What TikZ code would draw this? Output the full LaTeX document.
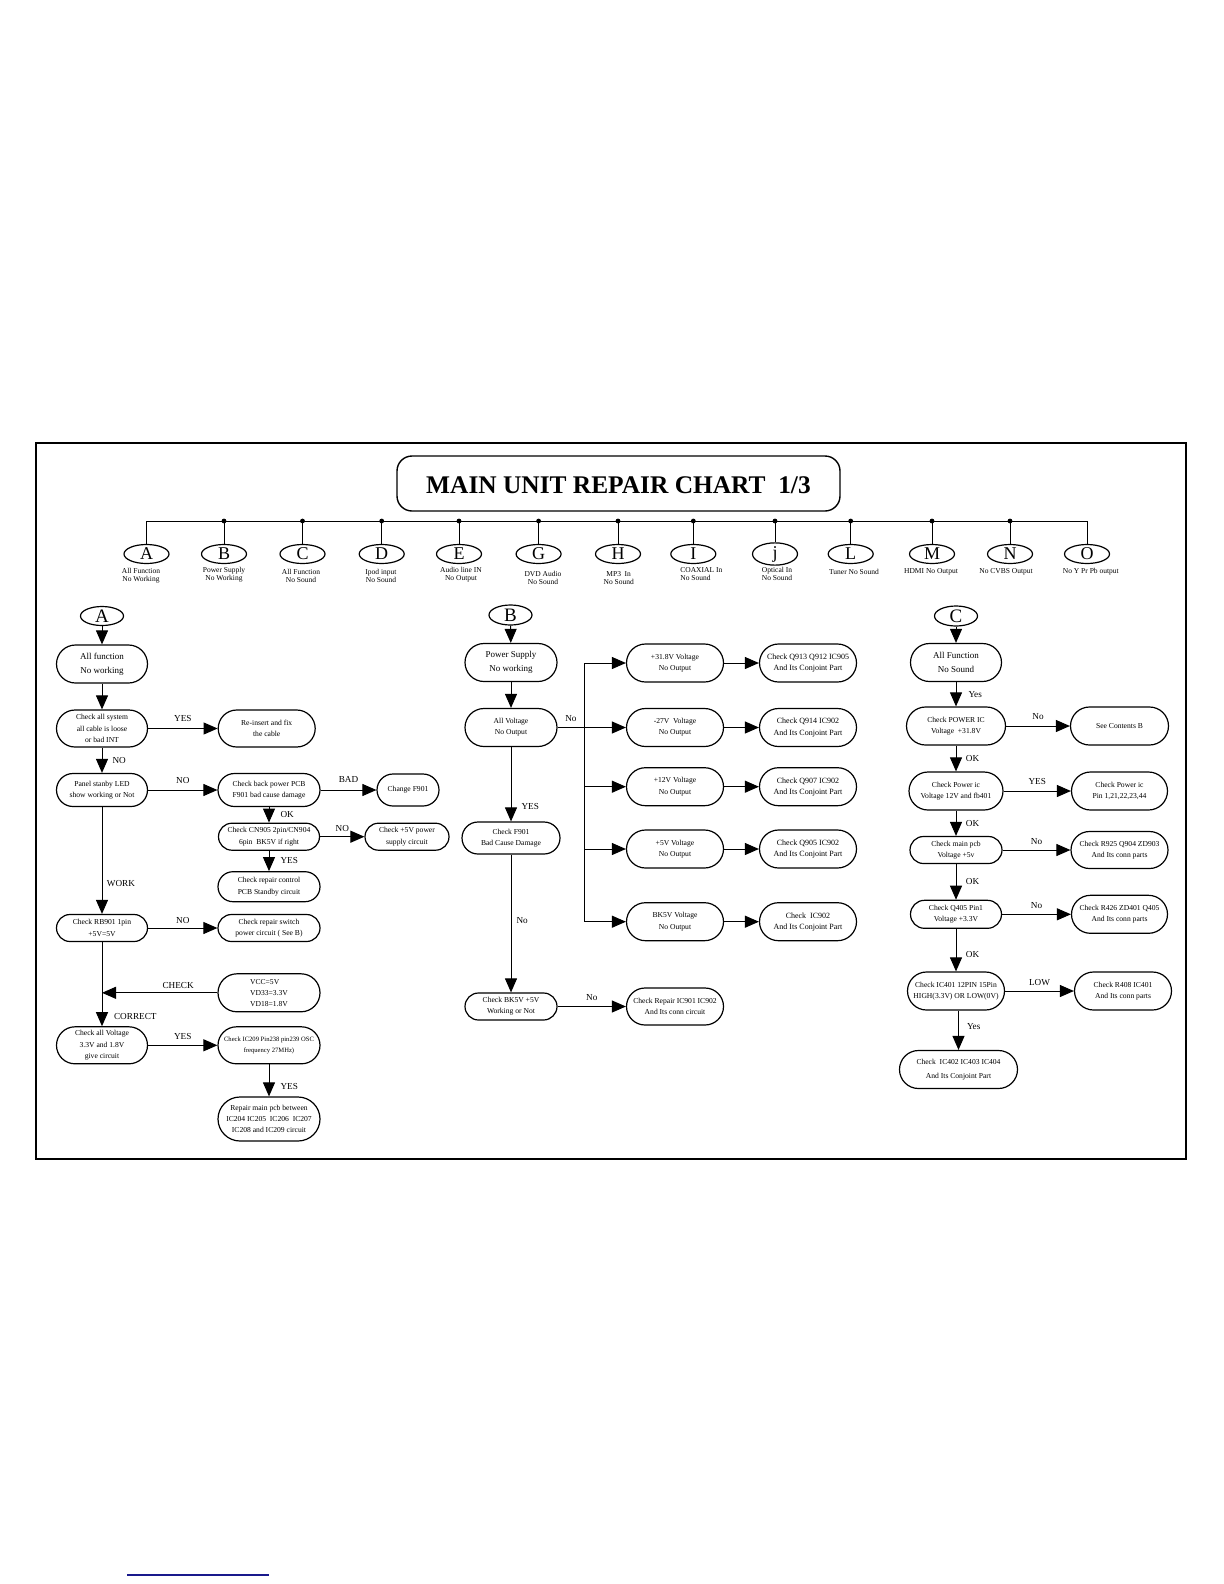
\documentclass[tikz,border=0pt]{standalone}
\usepackage{fontspec}
\setmainfont{Liberation Serif}
\usetikzlibrary{shapes.geometric,arrows.meta,positioning,calc}
\definecolor{linkblue}{RGB}{25,25,140}

\begin{document}
\begin{tikzpicture}[
    x=0.5pt, y=-0.5pt,
    box/.style={rectangle, draw, line width=0.6pt, inner sep=0.5pt, align=center, font=\fontsize{3.8pt}{5.6pt}\selectfont},
    bigbox/.style={box, font=\fontsize{4.5pt}{7.2pt}\selectfont},
    qbox/.style={box, font=\fontsize{4pt}{5.6pt}\selectfont},
    sz/.style 2 args={minimum width=#1pt, minimum height=#2pt, rounded corners=#2pt/2},
    letter/.style={ellipse, draw, line width=0.6pt, inner sep=0pt, minimum width=22.5pt, minimum height=9.5pt, font=\fontsize{9pt}{11pt}\selectfont},
    secletter/.style={letter, minimum width=21.5pt, minimum height=10pt, font=\fontsize{9.5pt}{11pt}\selectfont},
    caption/.style={align=center, inner sep=0pt, font=\fontsize{3.75pt}{4pt}\selectfont},
    lbl/.style={inner sep=0.5pt, font=\fontsize{4.6pt}{5pt}\selectfont},
    arrow/.style={-{Triangle[length=7pt,width=6pt]}, line width=0.5pt},
    wire/.style={line width=0.5pt},
    busdot/.style={circle, fill, inner sep=0pt, minimum size=2.4pt}
]
    \useasboundingbox (0,0) rectangle (1224,1584);
    \draw[line width=0.9pt] (36,443) rectangle (1186,1159);

    % title and index
    \node[draw, line width=0.7pt, rounded corners=7.5pt, minimum width=221.5pt, minimum height=27.5pt,
          text height=10.4pt, text depth=0pt,
          font=\fontsize{12.7pt}{15pt}\selectfont\bfseries] (title) at (618.5,483.5) {MAIN UNIT REPAIR CHART\ \ 1/3};

    \foreach \n/\x/\t in {tA/146.5/A, tB/224/B, tC/302.5/C, tD/381.7/D, tE/459/E, tG/538.6/G, tH/618/H,
                          tI/693.3/I, tJ/775/j, tL/850.7/L, tM/932/M, tN/1010/N, tO/1087/O}
        \node[letter] (\n) at (\x,554) {\t};

    \node[caption] (capA) at (141,576) {All Function\\No Working};
    \node[caption] (capB) at (224,575) {Power Supply\\No Working};
    \node[caption] (capC) at (301,575.5) {All Function\\No Sound};
    \node[caption] (capD) at (381,575.5) {Ipod input\\No Sound};
    \node[caption] (capE) at (461,575) {Audio line IN\\No Output};
    \node[caption] (capG) at (543,578) {DVD Audio\\No Sound};
    \node[caption] (capH) at (618.7,578) {MP3\ \ In\\No Sound};
    \node[caption, align=left, anchor=west] (capI) at (680,574.5) {COAXIAL In\\No Sound};
    \node[caption] (capJ) at (777,573.5) {Optical In\\No Sound};
    \node[caption] (capL) at (854,572) {Tuner No Sound};
    \node[caption] (capM) at (931,572) {HDMI No Output};
    \node[caption] (capN) at (1006,572) {No CVBS Output};
    \node[caption] (capO) at (1090.8,572) {No Y Pr Pb output};

    \coordinate (bus) at (0,521);
    \draw[wire] (tA.north) -- (tA.north |- bus) -- (tO.north |- bus) -- (tO.north);
    \foreach \n in {tB,tC,tD,tE,tG,tH,tI,tJ,tL,tM,tN}
        \draw[wire] (\n.north) -- (\n.north |- bus) node[busdot] {};

    % A: all function no working
    \node[secletter, minimum height=9.5pt] (secA) at (102,616) {A};
    \node[bigbox, sz={45.5}{19}] (allfunc) at (102,664) {All function\\No working};
    \node[box, sz={45.5}{18.5}] (chkcable) at (102,728.5) {Check all system\\all cable is loose\\or bad INT};
    \node[box, sz={48.5}{18.5}] (reinsert) at (266.7,728.5) {Re-insert and fix\\the cable};
    \node[box, sz={45.5}{16.5}] (standby) at (102,790) {Panel stanby LED\\show working or Not};
    \node[box, sz={51}{16.5}] (backpcb) at (269,790) {Check back power PCB\\F901 bad cause damage};
    \node[box, sz={31}{16}] (chgfuse) at (408,790) {Change F901};
    \node[box, sz={50.5}{13.5}] (chkcn) at (269,836.7) {Check CN905 2pin/CN904\\6pin\ \ BK5V if right};
    \node[box, sz={42}{13.5}] (chk5v) at (407,836.7) {Check +5V power\\supply circuit};
    \node[box, sz={51}{15}] (ctrlpcb) at (269,886.7) {Check repair control\\PCB Standby circuit};
    \node[box, sz={45.5}{13.5}] (chkrb) at (102,928) {Check RB901 1pin\\+5V=5V};
    \node[box, sz={51}{13.5}] (switchpcb) at (269,928) {Check repair switch\\power circuit ( See B)};
    \node[box, sz={51}{19}, align=left] (vcc) at (269,992.8) {VCC=5V\\VD33=3.3V\\VD18=1.8V};
    \node[box, sz={45.5}{18.5}] (chkvolt) at (102,1045.3) {Check all Voltage\\3.3V and 1.8V\\give circuit};
    \node[box, sz={51}{18.5}, font=\fontsize{3.3pt}{5.6pt}\selectfont] (chkosc) at (269,1045.3) {Check IC209 Pin238 pin239 OSC\\frequency 27MHz)};
    \node[box, sz={51}{22}] (repairpcb) at (269,1119) {Repair main pcb between\\IC204 IC205\ \ IC206\ \ IC207\\IC208 and IC209 circuit};

    \draw[arrow] (secA) -- (allfunc);
    \draw[arrow] (allfunc) -- (chkcable);
    \draw[arrow] (chkcable) -- node[lbl, above=2.5pt] {YES} (reinsert);
    \draw[arrow] (chkcable) -- node[lbl, right=4.5pt] {NO} (standby);
    \draw[arrow] (standby) -- node[lbl, above=2.5pt] {NO} (backpcb);
    \draw[arrow] (backpcb) -- node[lbl, above=3pt] {BAD} (chgfuse);
    \draw[arrow] (backpcb) -- node[lbl, right=5pt] {OK} (chkcn);
    \draw[arrow] (chkcn) -- node[lbl, above=2pt] {NO} (chk5v);
    \draw[arrow] (chkcn) -- node[lbl, right=5pt] {YES} (ctrlpcb);
    \draw[arrow] (standby) -- node[lbl, right=1.7pt, pos=0.72] {WORK} (chkrb);
    \draw[arrow] (chkrb) -- node[lbl, above=1.5pt] {NO} (switchpcb);
    \draw[arrow] (chkrb) -- node[lbl, right=5.3pt, pos=0.88] {CORRECT} (chkvolt);
    \draw[arrow] (vcc) -- node[lbl, above=1.5pt, pos=0.34] {CHECK} (vcc -| chkrb);
    \draw[arrow] (chkvolt) -- node[lbl, above=2pt] {YES} (chkosc);
    \draw[arrow] (chkosc) -- node[lbl, right=5pt, pos=0.68] {YES} (repairpcb);

    % B: power supply no working
    \node[secletter] (secB) at (510.5,615) {B};
    \node[bigbox, sz={46}{19}] (psu) at (511,662.5) {Power Supply\\No working};
    \node[box, sz={46}{19}] (allvolt) at (511,727.5) {All Voltage\\No Output};
    \node[box, sz={49}{16}] (chkfuse) at (511,838) {Check F901\\Bad Cause Damage};
    \node[box, sz={46}{13.5}] (chkbk) at (511,1006.5) {Check BK5V +5V\\Working or Not};
    \node[box, sz={48.5}{18.5}] (repairic) at (675,1006.5) {Check Repair IC901 IC902\\And Its conn circuit};

    \node[box, sz={48.5}{19}] (v318) at (675,663) {+31.8V Voltage\\No Output};
    \node[box, sz={48.5}{19}] (v27) at (675,727.5) {-27V\ \ Voltage\\No Output};
    \node[box, sz={48.5}{19}] (v12) at (675,786.7) {+12V Voltage\\No Output};
    \node[box, sz={48.5}{19}] (v5) at (675,849) {+5V Voltage\\No Output};
    \node[box, sz={48.5}{19}] (vbk) at (675,921.7) {BK5V Voltage\\No Output};

    \node[qbox, sz={48.5}{19}] (q913) at (808,663) {Check Q913 Q912 IC905\\And Its Conjoint Part};
    \node[qbox, sz={48.5}{19}] (q914) at (808,727.5) {Check Q914 IC902\\And Its Conjoint Part};
    \node[qbox, sz={48.5}{19}] (q907) at (808,786.7) {Check Q907 IC902\\And Its Conjoint Part};
    \node[qbox, sz={48.5}{19}] (q905) at (808,849) {Check Q905 IC902\\And Its Conjoint Part};
    \node[qbox, sz={48.5}{19}] (ic902) at (808,921.7) {Check\ \ IC902\\And Its Conjoint Part};

    \coordinate (vbus) at (584.3,0);
    \draw[arrow] (secB) -- (psu);
    \draw[arrow] (psu) -- (allvolt);
    \draw[wire] (allvolt.east) -- node[lbl, above=2pt] {No} (allvolt.east -| vbus);
    \draw[wire] (v318.west -| vbus) -- (vbk.west -| vbus);
    \foreach \v/\q in {v318/q913, v27/q914, v12/q907, v5/q905, vbk/ic902} {
        \draw[arrow] (\v.west -| vbus) -- (\v.west);
        \draw[arrow] (\v) -- (\q);
    }
    \draw[arrow] (allvolt) -- node[lbl, right=4.5pt, pos=0.8] {YES} (chkfuse);
    \draw[arrow] (chkfuse) -- node[lbl, right=2pt, pos=0.48] {No} (chkbk);
    \draw[arrow] (chkbk) -- node[lbl, above=2pt] {No} (repairic);

    % C: all function no sound
    \node[secletter] (secC) at (956,616) {C};
    \node[bigbox, sz={45.5}{19}] (nosound) at (956,662.5) {All Function\\No Sound};
    \node[box, sz={49.5}{19}] (pwric) at (956,726) {Check POWER IC\\Voltage\ \ +31.8V};
    \node[box, sz={49}{19}] (seeb) at (1119.5,726) {See Contents B};
    \node[box, sz={47}{19}] (pwrpin) at (956,791) {Check Power ic\\Voltage 12V and fb401};
    \node[box, sz={48}{19}] (pwrpins) at (1119.5,791) {Check Power ic\\Pin 1,21,22,23,44};
    \node[box, sz={46}{13.5}] (mainpcb) at (956,850) {Check main pcb\\Voltage +5v};
    \node[box, sz={48.5}{18.5}] (r925) at (1119.5,850) {Check R925 Q904 ZD903\\And Its conn parts};
    \node[box, sz={45.5}{14}] (q405) at (956,914.3) {Check Q405 Pin1\\Voltage +3.3V};
    \node[box, sz={48}{19}] (r426) at (1119.5,914.3) {Check R426 ZD401 Q405\\And Its conn parts};
    \node[box, sz={48.5}{19}] (ic401) at (956,991) {Check IC401 12PIN 15Pin\\HIGH(3.3V) OR LOW(0V)};
    \node[box, sz={48.5}{19}] (r408) at (1123,991) {Check R408 IC401\\And Its conn parts};
    \node[box, sz={59}{19}, font=\fontsize{3.8pt}{7pt}\selectfont] (ic402) at (958.5,1069.5) {Check\ \ IC402 IC403 IC404\\And Its Conjoint Part};

    \draw[arrow] (secC) -- (nosound);
    \draw[arrow] (nosound) -- node[lbl, right=5.5pt] {Yes} (pwric);
    \draw[arrow] (pwric) -- node[lbl, above=2.5pt] {No} (seeb);
    \draw[arrow] (pwric) -- node[lbl, right=4.2pt] {OK} (pwrpin);
    \draw[arrow] (pwrpin) -- node[lbl, above=2.5pt] {YES} (pwrpins);
    \draw[arrow] (pwrpin) -- node[lbl, right=4.2pt] {OK} (mainpcb);
    \draw[arrow] (mainpcb) -- node[lbl, above=2pt] {No} (r925);
    \draw[arrow] (mainpcb) -- node[lbl, right=4.2pt] {OK} (q405);
    \draw[arrow] (q405) -- node[lbl, above=2pt] {No} (r426);
    \draw[arrow] (q405) -- node[lbl, right=4.2pt, pos=0.6] {OK} (ic401);
    \draw[arrow] (ic401) -- node[lbl, above=2pt] {LOW} (r408);
    \draw[arrow] (ic401.south -| ic402) -- node[lbl, right=3.5pt, pos=0.4] {Yes} (ic402.north);

    \draw[linkblue, line width=0.7pt] (127,1575) -- (269,1575);
\end{tikzpicture}
\end{document}
